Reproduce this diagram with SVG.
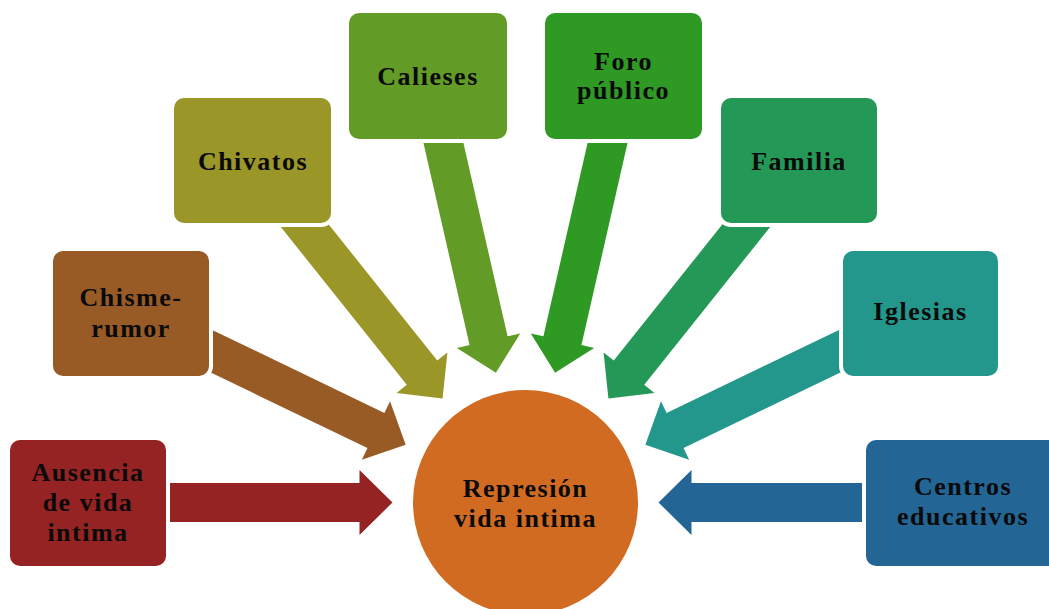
<svg xmlns="http://www.w3.org/2000/svg" width="1049" height="609" viewBox="0 0 1049 609">
<style>
.box{stroke:#fff;stroke-width:8;paint-order:stroke}
.lbl{font-family:"Liberation Serif","Times New Roman",serif;font-weight:bold;font-size:26px;letter-spacing:1.5px;fill:#0a0a0a;text-anchor:middle}
.c1{fill:#952323}.c2{fill:#985B26}.c3{fill:#9A9628}.c4{fill:#639B27}
.c5{fill:#2E9A24}.c6{fill:#249857}.c7{fill:#23978C}.c8{fill:#236595}
</style>
<defs>
<polygon id="arr" points="133,0 166,-32.5 166,-19.5 400,-19.5 400,19.5 166,19.5 166,32.5"/>
</defs>
<rect width="1049" height="609" fill="#fff"/>
<g id="connectors">
<use href="#arr" class="c1" transform="translate(525.5,502.5) rotate(180)"/>
<use href="#arr" class="c2" transform="translate(525.5,502.5) rotate(205.714)"/>
<use href="#arr" class="c3" transform="translate(525.5,502.5) rotate(231.429)"/>
<use href="#arr" class="c4" transform="translate(525.5,502.5) rotate(257.143)"/>
<use href="#arr" class="c5" transform="translate(525.5,502.5) rotate(282.857)"/>
<use href="#arr" class="c6" transform="translate(525.5,502.5) rotate(308.571)"/>
<use href="#arr" class="c7" transform="translate(525.5,502.5) rotate(334.286)"/>
<use href="#arr" class="c8" transform="translate(525.5,502.5) rotate(0)"/>
</g>
<g id="center">
<circle cx="525.5" cy="502.5" r="112.5" fill="#D26B22"/>
<text class="lbl" x="525.5" y="497">Represión</text>
<text class="lbl" x="525.5" y="527">vida intima</text>
</g>
<g id="ausencia">
<rect class="box c1" x="10" y="440" width="156" height="126" rx="10"/>
<text class="lbl" x="88" y="481">Ausencia</text>
<text class="lbl" x="88" y="511">de vida</text>
<text class="lbl" x="88" y="541">intima</text>
</g>
<g id="chisme">
<rect class="box c2" x="53" y="251" width="156" height="125" rx="10"/>
<text class="lbl" x="131" y="306">Chisme-</text>
<text class="lbl" x="131" y="337">rumor</text>
</g>
<g id="chivatos">
<rect class="box c3" x="174" y="98" width="157" height="125" rx="10"/>
<text class="lbl" x="253" y="170">Chivatos</text>
</g>
<g id="calieses">
<rect class="box c4" x="349" y="13" width="158" height="126" rx="10"/>
<text class="lbl" x="428" y="85">Calieses</text>
</g>
<g id="foro">
<rect class="box c5" x="545" y="13" width="157" height="126" rx="10"/>
<text class="lbl" x="623.5" y="70">Foro</text>
<text class="lbl" x="623.5" y="99">público</text>
</g>
<g id="familia">
<rect class="box c6" x="721" y="98" width="156" height="125" rx="10"/>
<text class="lbl" x="799" y="170">Familia</text>
</g>
<g id="iglesias">
<rect class="box c7" x="843" y="251" width="155" height="125" rx="10"/>
<text class="lbl" x="920.5" y="320">Iglesias</text>
</g>
<g id="centros">
<rect class="box c8" x="866" y="440" width="194" height="126" rx="10"/>
<text class="lbl" x="963" y="495">Centros</text>
<text class="lbl" x="963" y="525">educativos</text>
</g>
</svg>
